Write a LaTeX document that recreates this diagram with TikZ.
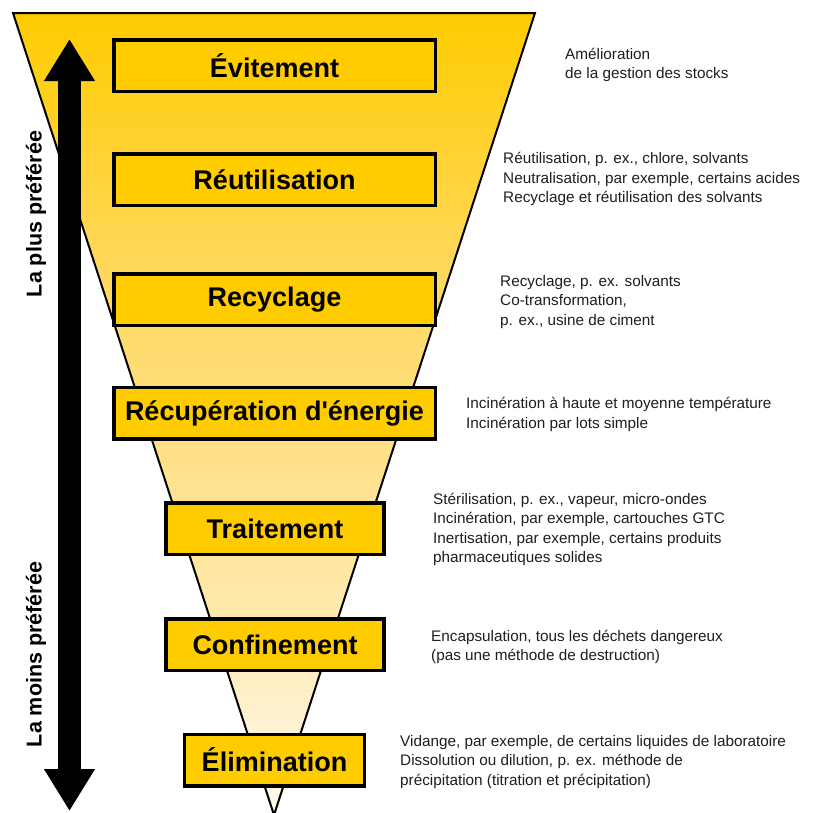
\documentclass[tikz,border=0pt]{standalone}
\usepackage{fontspec}
\setmainfont{Liberation Sans}[Ligatures=TeXOff]
\usetikzlibrary{arrows.meta}

% funnel colours, from the wide top down to the tip
\definecolor{ftop}{RGB}{255,204,0}
\definecolor{fone}{RGB}{255,216,92}
\definecolor{ftwo}{RGB}{255,224,135}
\definecolor{fthree}{RGB}{255,233,172}
\definecolor{fbot}{RGB}{255,249,238}
\definecolor{boxfill}{RGB}{255,204,0}
\definecolor{notegray}{RGB}{30,30,30}

\pgfdeclareverticalshading{funnelfill}{100bp}{%
  color(0bp)=(fbot); color(25bp)=(fbot); color(38bp)=(fthree);
  color(48bp)=(ftwo); color(59bp)=(fone); color(75bp)=(ftop); color(100bp)=(ftop)}

\begin{document}
\begin{tikzpicture}[x=1pt,y=-1pt,
  level/.style={draw=black, line width=3.5pt, fill=boxfill, inner sep=0pt,
    minimum height=51.5pt, font=\bfseries\fontsize{27}{32}\selectfont},
  widebox/.style={level, minimum width=321.5pt},
  midbox/.style={level, minimum width=218pt},
  smallbox/.style={level, minimum width=180pt},
  note/.style={anchor=west, align=left, inner sep=0pt, text=notegray,
    font=\fontsize{15.3}{19.6}\selectfont},
  sidelabel/.style={rotate=90, inner sep=0pt, font=\bfseries\fontsize{21.5}{26}\selectfont}]

\useasboundingbox (0,0) rectangle (814,812);
\clip (0,0) rectangle (814,812);

% the funnel
\path[shading=funnelfill] (13,13) -- (535,13) -- (274,815) -- cycle;
\draw[line width=2pt, line join=miter] (13,13) -- (535,13) -- (274,815) -- cycle;

% levels of the hierarchy
\node[widebox] (evit) at (274.5,65.5) {Évitement};
\node[widebox] (reut) at (274.5,179.5) {Réutilisation};
\node[widebox] (recy) at (274.5,299.5) {Recyclage};
\node[widebox] (recu) at (274.5,413) {Récupération d'énergie};
\node[midbox] (trai) at (275,528.5) {Traitement};
\node[midbox] (conf) at (275,644.5) {Confinement};
\node[smallbox] (elim) at (274.5,760) {Élimination};

% notes beside each level
\node[note] (nevit) at (565,65) {Amélioration\\de la gestion des stocks};
\node[note] (nreut) at (503,179) {Réutilisation, p. ex., chlore, solvants\\Neutralisation, par exemple, certains acides\\Recyclage et réutilisation des solvants};
\node[note] (nrecy) at (500,302) {Recyclage, p. ex. solvants\\Co-transformation,\\p. ex., usine de ciment};
\node[note] (nrecu) at (466,414.5) {Incinération à haute et moyenne température\\Incinération par lots simple};
\node[note] (ntrai) at (433,529.5) {Stérilisation, p. ex., vapeur, micro-ondes\\Incinération, par exemple, cartouches GTC\\Inertisation, par exemple, certains produits\\pharmaceutiques solides};
\node[note] (nconf) at (431,647) {Encapsulation, tous les déchets dangereux\\(pas une méthode de destruction)};
\node[note] (nelim) at (400,762) {Vidange, par exemple, de certains liquides de laboratoire\\Dissolution ou dilution, p. ex. méthode de\\précipitation (titration et précipitation)};

% preference arrow
\coordinate (arrtop) at (69.5,39);
\coordinate (arrbot) at (69.5,811);
\draw[line width=23pt, {Triangle[width=48pt,length=42pt]}-{Triangle[width=48pt,length=42pt]}] (arrtop) -- (arrbot);

\node[sidelabel] (plus) at (36,214) {La plus préférée};
\node[sidelabel] (moins) at (36,654.5) {La moins préférée};
\end{tikzpicture}
\end{document}
